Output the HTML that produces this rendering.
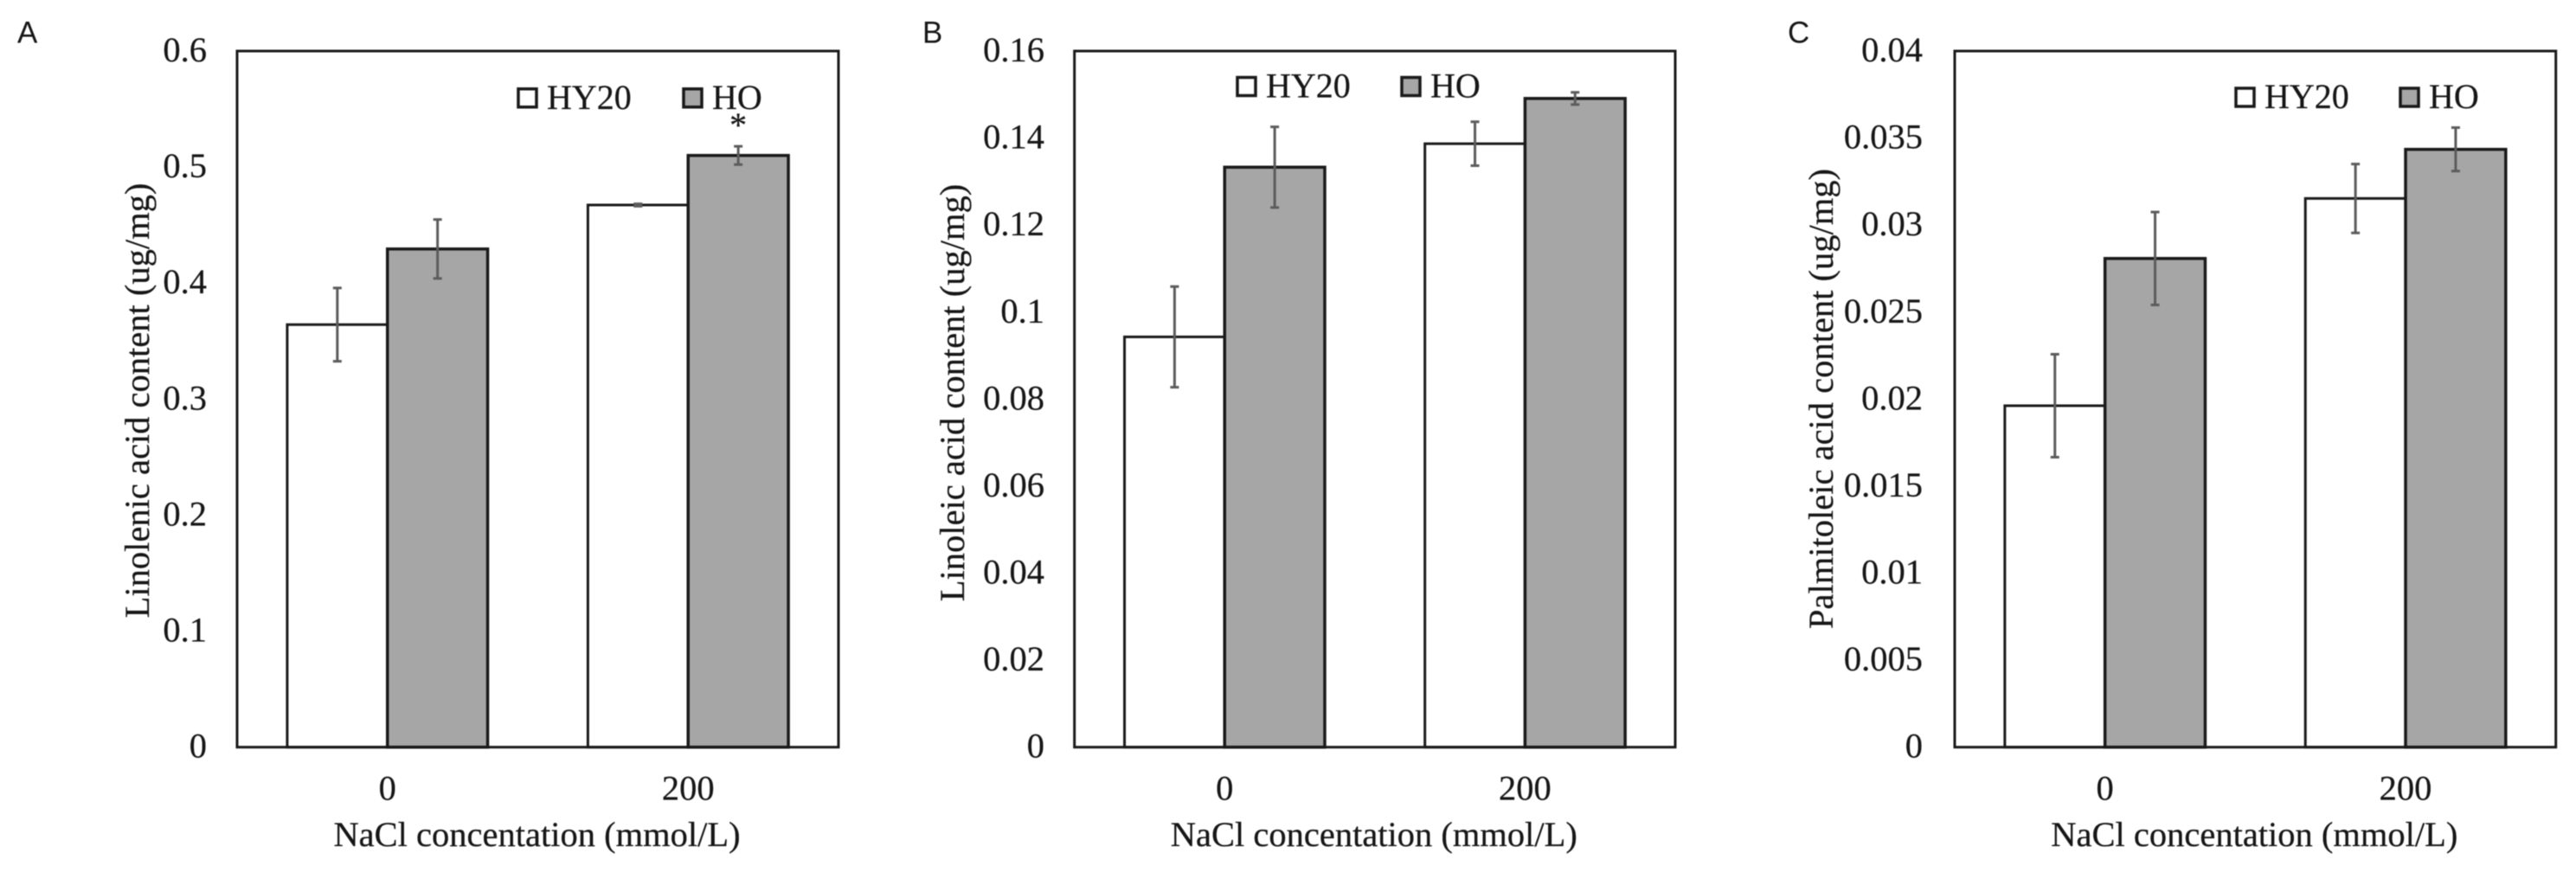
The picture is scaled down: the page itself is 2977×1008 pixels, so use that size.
<!DOCTYPE html>
<html lang="en">
<head>
<meta charset="utf-8">
<title>Fatty acid content by NaCl concentration</title>
<style>
  html, body { margin: 0; padding: 0; background: #fff; }
  #figure { display: block; width: 2977px; height: 1008px; filter: blur(0.6px); }
  .serif { font-family: "Liberation Serif", serif; fill: #161616; stroke: #161616; stroke-width: 0.25px; }
  .sans { font-family: "Liberation Sans", sans-serif; fill: #161616; }
</style>
</head>
<body>
<svg id="figure" xmlns="http://www.w3.org/2000/svg" width="2977" height="1008" viewBox="0 0 2977 1008"></svg>
<script>
const categories = ["0", "200"];
const seriesNames = ["HY20", "HO"];

const ticksA = ["0", "0.1", "0.2", "0.3", "0.4", "0.5", "0.6"];
const hy20A = [0.3642, 0.4673];
const hoA = [0.4294, 0.5100];
const hy20ErrA = [0.0316, 0.0010];
const hoErrA = [0.0254, 0.0079];

const ticksB = ["0", "0.02", "0.04", "0.06", "0.08", "0.1", "0.12", "0.14", "0.16"];
const hy20B = [0.0943, 0.1387];
const hoB = [0.1333, 0.1491];
const hy20ErrB = [0.01157, 0.00505];
const hoErrB = [0.00927, 0.0014];

const ticksC = ["0", "0.005", "0.01", "0.015", "0.02", "0.025", "0.03", "0.035", "0.04"];
const hy20C = [0.01962, 0.03153];
const hoC = [0.02808, 0.03435];
const hy20ErrC = [0.00296, 0.00198];
const hoErrC = [0.00267, 0.00125];

const NS = "http://www.w3.org/2000/svg";
const svg = document.getElementById("figure");
const TOP = 59;
const BOTTOM = 863.7;
const STROKE = "#1a1a1a";
const GRAY = "#a6a6a6";
const ERR = "#5c5c5c";

function make(parent, tag, attrs, text) {
  const el = document.createElementNS(NS, tag);
  for (const k in attrs) el.setAttribute(k, attrs[k]);
  if (text !== undefined) el.textContent = text;
  parent.appendChild(el);
  return el;
}

function drawPanel(p) {
  const g = make(svg, "g", {});
  
  

  const width = p.right - p.left;
  const yMax = parseFloat(p.ticks[p.ticks.length - 1]);
  const yScale = function (v) { return BOTTOM - (v / yMax) * (BOTTOM - TOP); };
  const band = width / categories.length;
  const barW = band / 3;
  const xCenter = function (i) { return p.left + band * (i + 0.5); };

  const letter = make(g, "text", { x: p.letterX, y: 49.5, class: "sans", "font-size": 35 }, p.letter);
  
  

  const plotBg = make(g, "rect", { x: p.left, y: TOP, width: width, height: BOTTOM - TOP, fill: "#fff" });
  
  

  p.ticks.forEach(function (t) {
    const label = make(g, "text", {
      x: p.tickRight, y: yScale(parseFloat(t)) + 12,
      class: "serif", "font-size": 40.5, "text-anchor": "end"
    }, t);
    
    
  });

  categories.forEach(function (c, i) {
    const cx = xCenter(i);

    const barA = make(g, "rect", {
      x: cx - barW, y: yScale(p.hy20[i]), width: barW, height: BOTTOM - yScale(p.hy20[i]),
      fill: "#fff", stroke: STROKE, "stroke-width": 3
    });
    
    

    const barB = make(g, "rect", {
      x: cx, y: yScale(p.ho[i]), width: barW, height: BOTTOM - yScale(p.ho[i]),
      fill: GRAY, stroke: STROKE, "stroke-width": 3.5
    });
    
    

    [[cx - barW / 2, p.hy20[i], p.hy20Err[i]], [cx + barW / 2, p.ho[i], p.hoErr[i]]].forEach(function (e) {
      const yHi = yScale(e[1] + e[2]);
      const yLo = yScale(e[1] - e[2]);
      const err = make(g, "path", {
        d: "M" + e[0] + " " + yHi + "V" + yLo +
           "M" + (e[0] - 5) + " " + yHi + "H" + (e[0] + 5) +
           "M" + (e[0] - 5) + " " + yLo + "H" + (e[0] + 5),
        fill: "none", stroke: ERR, "stroke-width": 3
      });
      
      
    });

    const xLabel = make(g, "text", {
      x: cx, y: 924.5, class: "serif", "font-size": 40.5, "text-anchor": "middle"
    }, c);
    
    
  });

  const frame = make(g, "rect", {
    x: p.left, y: TOP, width: width, height: BOTTOM - TOP,
    fill: "none", stroke: STROKE, "stroke-width": 3
  });
  
  

  const xTitle = make(g, "text", {
    x: p.left + width / 2 - 1, y: 978, class: "serif", "font-size": 40.5, "text-anchor": "middle"
  }, "NaCl concentation (mmol/L)");
  
  

  const yTitle = make(g, "text", {
    transform: "translate(" + p.yTitleX + " " + p.yTitleY + ") rotate(-90)",
    class: "serif", "font-size": 40.5, "text-anchor": "middle"
  }, p.yTitle);
  
  

  [[p.legX1, "#fff"], [p.legX2, GRAY]].forEach(function (l, i) {
    const swatch = make(g, "rect", {
      x: l[0], y: p.legY, width: 21, height: 21, fill: l[1], stroke: STROKE, "stroke-width": 3.5
    });
    
    

    const legendText = make(g, "text", {
      x: l[0] + 33, y: p.legY + 23, class: "serif", "font-size": 40
    }, seriesNames[i]);
    
    
  });

  return { xCenter: xCenter, barW: barW, g: g };
}

const panelA = drawPanel({
  letter: "A", letterX: 20, left: 274, right: 969, tickRight: 239,
  ticks: ticksA, hy20: hy20A, ho: hoA, hy20Err: hy20ErrA, hoErr: hoErrA,
  yTitle: "Linolenic acid content (ug/mg)", yTitleX: 172, yTitleY: 463,
  legX1: 599, legX2: 790, legY: 102.75
});

const panelB = drawPanel({
  letter: "B", letterX: 1066, left: 1241.7, right: 1936, tickRight: 1207,
  ticks: ticksB, hy20: hy20B, ho: hoB, hy20Err: hy20ErrB, hoErr: hoErrB,
  yTitle: "Linoleic acid content (ug/mg)", yTitleX: 1114, yTitleY: 454,
  legX1: 1430, legX2: 1620, legY: 89.5
});

const panelC = drawPanel({
  letter: "C", letterX: 2066, left: 2259, right: 2953.7, tickRight: 2222,
  ticks: ticksC, hy20: hy20C, ho: hoC, hy20Err: hy20ErrC, hoErr: hoErrC,
  yTitle: "Palmitoleic acid content (ug/mg)", yTitleX: 2118, yTitleY: 461,
  legX1: 2584, legX2: 2774, legY: 102
});

const star = make(panelA.g, "text", {
  x: panelA.xCenter(1) + panelA.barW / 2, y: 158, class: "serif", "font-size": 40, "text-anchor": "middle"
}, "*");


</script>
</body>
</html>
